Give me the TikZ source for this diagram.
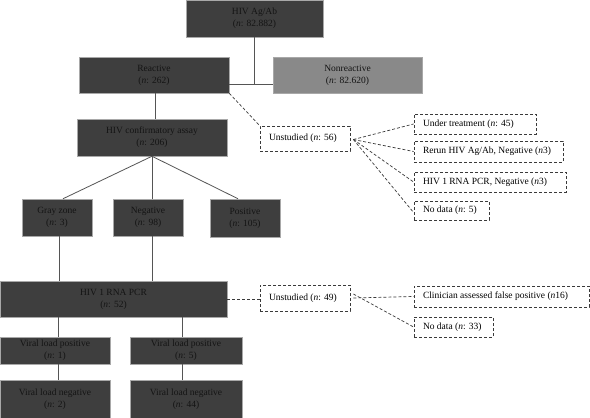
\documentclass[tikz,border=0pt]{standalone}
\usepackage{fontspec}
\setmainfont{Liberation Serif}
\definecolor{boxdark}{HTML}{3E3E3E}
\definecolor{boxlight}{HTML}{898989}
\definecolor{boxedge}{HTML}{A8A8A8}
\definecolor{txtdark}{HTML}{141414}
\definecolor{linecol}{HTML}{555555}
\definecolor{dashcol}{HTML}{3A3A3A}
\newcommand{\nn}{\textit{n}}
\newcommand{\lefttxt}[2]{\makebox[#1pt][l]{#2}}
\begin{document}
\begin{tikzpicture}[x=1pt,y=-1pt,
  every node/.style={font=\fontsize{9.5}{12}\selectfont, inner sep=0pt, align=center},
  dbox/.style={rectangle, fill=boxdark, draw=boxedge, line width=0.5pt, text=txtdark},
  lbox/.style={rectangle, fill=boxlight, draw=boxedge, line width=0.5pt, text=txtdark},
  ubox/.style={rectangle, fill=white, draw=dashcol, line width=0.8pt, dash pattern=on 3pt off 2pt, text=black, inner xsep=9pt},
  conn/.style={draw=linecol, line width=0.8pt},
  dconn/.style={draw=dashcol, line width=0.7pt, dash pattern=on 3pt off 2pt}
]
\useasboundingbox (0,0) rectangle (590,418);
\fill[white] (0,0) rectangle (590,418);

% dark boxes
\node[dbox, minimum width=137pt, minimum height=37pt] (ag) at (254.5,18.5) {HIV Ag/Ab\\(\nn: 82.882)};
\node[dbox, minimum width=150pt, minimum height=36pt] (reac) at (154,75) {Reactive\\(\nn: 262)};
\node[lbox, minimum width=149pt, minimum height=36pt] (nonr) at (347.5,75) {Nonreactive\\(\nn: 82.620)};
\node[dbox, minimum width=150pt, minimum height=37pt] (conf) at (152,137.5) {HIV confirmatory assay\\(\nn: 206)};
\node[dbox, minimum width=70pt, minimum height=37pt] (gray) at (57,217.5) {Gray zone\\(\nn: 3)};
\node[dbox, minimum width=70pt, minimum height=37pt] (neg) at (148,217.5) {Negative\\(\nn: 98)};
\node[dbox, minimum width=70pt, minimum height=38pt] (pos) at (245,218) {Positive\\(\nn: 105)};
\node[dbox, minimum width=227pt, minimum height=36pt] (pcr) at (113.5,299) {HIV 1 RNA PCR\\(\nn: 52)};
\node[dbox, minimum width=110pt, minimum height=27pt] (vlpa) at (55,350.5) {Viral load positive\\(\nn: 1)};
\node[dbox, minimum width=112pt, minimum height=27pt] (vlpb) at (186,350.5) {Viral load positive\\(\nn: 5)};
\node[dbox, minimum width=110pt, minimum height=38pt] (vlna) at (55,399) {Viral load negative\\(\nn: 2)};
\node[dbox, minimum width=112pt, minimum height=38pt] (vlnb) at (186,399) {Viral load negative\\(\nn: 44)};

% dashed boxes
\node[ubox, minimum height=25pt] (unsa) at (305,138.5) {\lefttxt{72}{Unstudied (\nn: 56)}};
\node[ubox, minimum height=20pt] (ut) at (475,124) {\lefttxt{104}{Under treatment (\nn: 45)}};
\node[ubox, minimum height=21pt] (rerun) at (488.5,151.5) {\lefttxt{131}{Rerun HIV Ag/Ab, Negative (\nn3)}};
\node[ubox, minimum height=20pt] (hneg) at (490,182) {\lefttxt{134}{HIV 1 RNA PCR, Negative (\nn3)}};
\node[ubox, minimum height=19pt] (nda) at (451.5,210.5) {\lefttxt{57}{No data (\nn: 5)}};
\node[ubox, minimum height=26pt] (unsb) at (305,298) {\lefttxt{72}{Unstudied (\nn: 49)}};
\node[ubox, minimum height=21pt] (clin) at (501.5,296.5) {\lefttxt{157}{Clinician assessed false positive (\nn16)}};
\node[ubox, minimum height=20pt] (ndb) at (453.5,327) {\lefttxt{61}{No data (\nn: 33)}};

% solid connectors
\coordinate (jr) at ([yshift=-9pt]reac.east);
\coordinate (jn) at ([yshift=-9pt]nonr.west);
\draw[conn] (jr) -- (jn);
\draw[conn] (ag.south) -- (ag.south |- jr);
\draw[conn] ([xshift=1pt]reac.south) -- ([xshift=1pt]reac.south |- conf.north);
\coordinate (cb) at (conf.south);
\draw[conn] (cb) -- ([xshift=6pt]gray.north);
\draw[conn] (cb) -- ([xshift=4pt]neg.north);
\draw[conn] (cb) -- ([xshift=-7pt]pos.north);
\draw[conn] ([xshift=2pt]gray.south) -- ([xshift=2pt]gray.south |- pcr.north);
\draw[conn] ([xshift=4pt]neg.south) -- ([xshift=4pt]neg.south |- pcr.north);
\draw[conn] ([xshift=3pt]vlpa.north) -- ([xshift=3pt]vlpa.north |- pcr.south);
\draw[conn] ([xshift=-4pt]vlpb.north) -- ([xshift=-4pt]vlpb.north |- pcr.south);
\draw[conn] ([xshift=3pt]vlpa.south) -- ([xshift=3pt]vlpa.south |- vlna.north);
\draw[conn] ([xshift=-4pt]vlpb.south) -- ([xshift=-4pt]vlpb.south |- vlnb.north);

% dashed connectors
\draw[dconn] (reac.south east) -- (unsa.north west);
\coordinate (ua) at ([xshift=3pt,yshift=-1pt]unsa.east);
\draw[dconn] (ua) -- (ut.west);
\draw[dconn] (ua) -- (rerun.west);
\draw[dconn] (ua) -- (hneg.west);
\draw[dconn] (ua) -- ([yshift=-2pt]nda.west);
\draw[dconn] (pcr.east) -- (pcr.east -| unsb.west);
\coordinate (ub1) at ([xshift=3pt]unsb.east);
\coordinate (ub2) at ([xshift=3pt,yshift=4pt]unsb.east);
\draw[dconn] (ub1) -- (clin.west);
\draw[dconn] (ub2) -- (ndb.west);
\end{tikzpicture}
\end{document}
